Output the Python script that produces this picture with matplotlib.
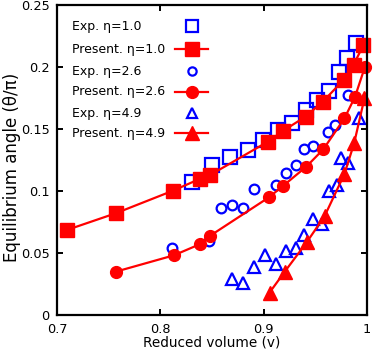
import matplotlib
matplotlib.use("Agg")
import matplotlib.pyplot as plt
from matplotlib.ticker import FuncFormatter

# experimental data (open blue markers)
exp_v_10 = [0.8305, 0.8497, 0.8671, 0.8846, 0.899, 0.9136, 0.928, 0.9416, 0.9522, 0.9639, 0.9736, 0.9813, 0.99]
exp_a_10 = [0.1073, 0.121, 0.1274, 0.1331, 0.141, 0.1492, 0.155, 0.1653, 0.1734, 0.1809, 0.1962, 0.207, 0.2191]

exp_v_26 = [0.811, 0.8468, 0.8584, 0.8696, 0.88, 0.8907, 0.9117, 0.9218, 0.931, 0.9388, 0.9477, 0.962, 0.9697, 0.9816]
exp_a_26 = [0.054, 0.0597, 0.0859, 0.0887, 0.0859, 0.102, 0.1048, 0.1145, 0.1206, 0.1335, 0.136, 0.1476, 0.1532, 0.1774]

exp_v_49 = [0.8696, 0.8802, 0.8907, 0.901, 0.9117, 0.922, 0.9315, 0.9394, 0.9477, 0.9562, 0.9632, 0.9709, 0.9748, 0.9816, 0.9922]
exp_a_49 = [0.0294, 0.0256, 0.039, 0.0484, 0.0415, 0.0516, 0.054, 0.0645, 0.0772, 0.0734, 0.0998, 0.1046, 0.1266, 0.1227, 0.1586]

# present results (red lines with filled markers)
pre_v_10 = [0.709, 0.7565, 0.812, 0.8388, 0.8478, 0.9042, 0.9187, 0.9407, 0.9574, 0.9775, 0.9874, 0.9968]
pre_a_10 = [0.0685, 0.082, 0.1002, 0.110, 0.1127, 0.1398, 0.1484, 0.160, 0.172, 0.1895, 0.202, 0.2177]

pre_v_26 = [0.7565, 0.8129, 0.8388, 0.8478, 0.9052, 0.9187, 0.9414, 0.9579, 0.9784, 0.9886, 0.9983]
pre_a_26 = [0.0349, 0.0481, 0.0573, 0.0637, 0.0949, 0.104, 0.1196, 0.1336, 0.1586, 0.1758, 0.2002]

pre_v_49 = [0.9058, 0.9203, 0.9417, 0.9592, 0.9784, 0.9878, 0.9978]
pre_a_49 = [0.0181, 0.0347, 0.0585, 0.0798, 0.1137, 0.1385, 0.1748]

labels = ["Exp. η=1.0", "Present. η=1.0", "Exp. η=2.6", "Present. η=2.6", "Exp. η=4.9", "Present. η=4.9"]

blue = "#0000ff"
red = "#ff0000"

fig = plt.figure(figsize=(3.74, 3.57), dpi=100)
ax = fig.add_axes([0.1532, 0.1176, 0.8273, 0.8684])

exp_style = dict(mfc="none", mec=blue, mew=1.6, ls="none", clip_on=False)
pre_style = dict(color=red, lw=1.6, clip_on=False)

ax.plot(exp_v_10, exp_a_10, "s", ms=9.5, **exp_style)
ax.plot(exp_v_26, exp_a_26, "o", ms=7, **exp_style)
ax.plot(exp_v_49, exp_a_49, "^", ms=8, **exp_style)

ax.plot(pre_v_10, pre_a_10, "-s", ms=10, **pre_style)
ax.plot(pre_v_26, pre_a_26, "-o", ms=8.5, **pre_style)
ax.plot(pre_v_49, pre_a_49, "-^", ms=9.5, **pre_style)

ax.set_xlim(0.7, 1.0)
ax.set_ylim(0, 0.25)
ax.set_xticks([0.7, 0.8, 0.9, 1.0])
ax.set_yticks([0, 0.05, 0.1, 0.15, 0.2, 0.25])
fmt = FuncFormatter(lambda v, p: "%g" % round(v, 3))
ax.xaxis.set_major_formatter(fmt)
ax.yaxis.set_major_formatter(fmt)

for s in ax.spines.values():
    s.set_linewidth(1.6)
ax.tick_params(direction="in", length=4, width=1.4, top=True, right=True, labelsize=9.3)
ax.tick_params(axis="x", pad=5.5)
ax.tick_params(axis="y", pad=5.5)

ax.set_xlabel("Reduced volume (v)", fontsize=9.8, labelpad=0)
ax.set_ylabel("Equilibrium angle (θ/π)", fontsize=12, va="center")
ax.yaxis.set_label_coords(-0.145, 0.475)

# legend drawn by hand: labels left aligned, keys in one column to their right
markers = ["s", "s", "o", "o", "^", "^"]
sizes = [9.5, 10, 7, 8.5, 8, 9.5]
rows_y = [0.932, 0.857, 0.787, 0.720, 0.651, 0.586]
for i, lab in enumerate(labels):
    y = rows_y[i]
    ax.text(0.049, y, lab, transform=ax.transAxes, fontsize=9, va="center", ha="left")
    if i % 2 == 0:
        ax.plot([0.435], [y], markers[i], ms=sizes[i] * 0.85, transform=ax.transAxes, **exp_style)
    else:
        ax.plot([0.380, 0.487], [y, y], "-", transform=ax.transAxes, **pre_style)
        ax.plot([0.435], [y], markers[i], ms=sizes[i], transform=ax.transAxes, **pre_style)

fig.savefig("out.png", dpi=100)
